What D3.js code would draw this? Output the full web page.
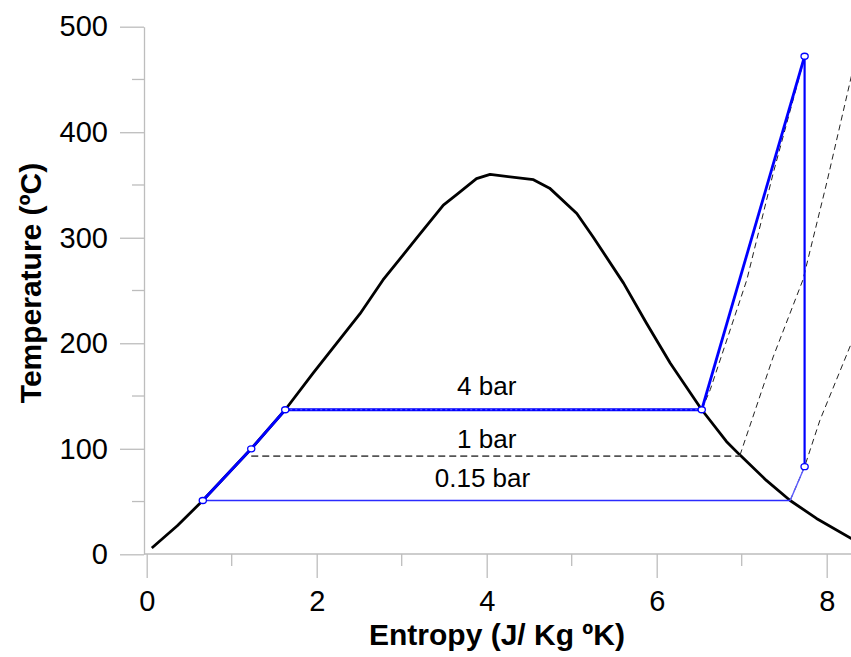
<!DOCTYPE html>
<html>
<head>
<meta charset="utf-8">
<script src="https://cdn.jsdelivr.net/npm/d3@7"></script>
<style>
  html, body { margin: 0; padding: 0; background: #fff; }
  svg { display: block; font-family: "Liberation Sans", Arial, sans-serif; }
</style>
</head>
<body>
<div id="chart"></div>
<script>
// saturation dome (entropy, temperature)
const satLiquid = [[0.06, 6], [0.36, 27], [0.66, 51], [1.23, 100], [1.63, 137], [1.96, 172], [2.51, 228],
  [2.78, 260], [3.18, 300], [3.49, 331], [3.65, 341], [3.88, 356], [4.04, 360]];
const satVapor = [[4.04, 360], [4.55, 355], [4.74, 347], [5.06, 323], [5.25, 301], [5.61, 257], [5.88, 219],
  [6.16, 181], [6.53, 137], [6.82, 107], [6.98, 94], [7.29, 70], [7.57, 51], [7.88, 34], [8.29, 15], [8.6, 3]];
// superheated isobars
const iso4bar = [[6.53, 137], [6.63, 156], [7.06, 260], [7.37, 361], [7.72, 465]];
const iso1bar = [[6.98, 94], [7.37, 187], [7.72, 260], [8.0, 352], [8.29, 453], [8.4, 490]];
const iso015bar = [[7.57, 51], [7.74, 83], [7.92, 127], [8.29, 200], [8.45, 232]];
// rankine cycle
const pumpLine = [[0.66, 51], [1.23, 100], [1.63, 137]];
const boilLine = [[1.63, 137], [6.53, 137]];
const superheatLine = [[6.53, 137], [7.74, 472]];
const turbineLine = [[7.74, 472], [7.74, 83]];
const wetLine = [[7.74, 83], [7.57, 51]];
const condenserLine = [[0.66, 51], [7.57, 51]];
const line1bar = [[1.23, 93], [6.98, 93]];
const statePoints = [[0.66, 51], [1.23, 100], [1.63, 137], [6.53, 137], [7.74, 472], [7.74, 83]];
const pressureLabels = [
  { text: "4 bar", s: 4.0, t: 151 },
  { text: "1 bar", s: 4.0, t: 101 },
  { text: "0.15 bar", s: 3.95, t: 64 },
];
const xTicks = [0, 2, 4, 6, 8];
const xMinor = [1, 3, 5, 7];
const yTicks = [0, 100, 200, 300, 400, 500];
const yMinor = [50, 150, 250, 350, 450];

const width = 851, height = 657;
const x = d3.scaleLinear().domain([0, 8]).range([146.7, 826.7]);
const y = d3.scaleLinear().domain([0, 500]).range([554.3, 26.7]);
const axisColor = "#bdbdbd";

const svg = d3.select("#chart").append("svg")
  .attr("width", width)
  .attr("height", height);

svg.append("defs").append("clipPath").attr("id", "plot")
  .append("rect").attr("x", 144).attr("y", 0).attr("width", width - 144).attr("height", 555);

// axes
const yAxis = svg.append("g").attr("transform", "translate(144,0)");
yAxis.call(d3.axisLeft(y).tickValues(yTicks).tickSize(24).tickPadding(12).tickSizeOuter(0));
yAxis.append("g").selectAll("line").data(yMinor).join("line")
  .attr("x1", -12).attr("x2", 0).attr("y1", y).attr("y2", y);

const xAxis = svg.append("g").attr("transform", "translate(0,554)");
xAxis.call(d3.axisBottom(x).tickValues(xTicks).tickSize(24).tickPadding(12).tickSizeOuter(0));
xAxis.select(".domain").remove();
xAxis.append("line").attr("x1", 144).attr("x2", width).attr("y1", 0).attr("y2", 0);
xAxis.append("g").selectAll("line").data(xMinor).join("line")
  .attr("x1", x).attr("x2", x).attr("y1", 0).attr("y2", 12);

svg.selectAll(".domain, .tick line, g line").attr("stroke", axisColor).attr("stroke-width", 1.3);
svg.selectAll(".tick text").attr("fill", "#000").style("font-size", "29px");

svg.append("text")
  .attr("x", 497).attr("y", 645)
  .attr("text-anchor", "middle")
  .style("font-size", "30px").style("font-weight", "bold")
  .text("Entropy (J/ Kg ºK)");
svg.append("text")
  .attr("transform", "translate(41,283) rotate(-90)")
  .attr("text-anchor", "middle")
  .style("font-size", "30px").style("font-weight", "bold")
  .text("Temperature (ºC)");

// plot
const plot = svg.append("g").attr("clip-path", "url(#plot)");
const line = d3.line().x((d) => x(d[0])).y((d) => y(d[1]));
const draw = (data, color, w, dash) => plot.append("path")
  .datum(data)
  .attr("d", line)
  .attr("fill", "none")
  .attr("stroke", color)
  .attr("stroke-width", w)
  .attr("stroke-linejoin", "round")
  .attr("stroke-dasharray", dash ?? null);

draw(satLiquid.concat(satVapor.slice(1)), "#000", 2.8);
draw(iso4bar, "#222", 1, "6,4");
draw(iso1bar, "#222", 1, "6,4");
draw(iso015bar, "#222", 1, "6,4");
draw(line1bar, "#555", 1.8, "7,4");
draw(condenserLine, "#2b2bff", 1.5);
draw(wetLine, "#5a5aff", 1.4);
draw(turbineLine, "#0000ff", 2.2);
draw(pumpLine, "#0000ff", 2.8);
draw(boilLine, "#0000ff", 3.2);
draw(boilLine, "#ffffff", 0.7, "2,3").attr("opacity", 0.6);
draw(superheatLine, "#0000ff", 2.8);

plot.selectAll("ellipse.pt").data(statePoints).join("ellipse")
  .attr("class", "pt")
  .attr("cx", (d) => x(d[0]))
  .attr("cy", (d) => y(d[1]))
  .attr("rx", 3.6).attr("ry", 3)
  .attr("fill", "#fff")
  .attr("stroke", "#0000ff")
  .attr("stroke-width", 1.3);

svg.selectAll("text.lbl").data(pressureLabels).join("text")
  .attr("class", "lbl")
  .attr("x", (d) => x(d.s))
  .attr("y", (d) => y(d.t))
  .attr("text-anchor", "middle")
  .style("font-size", "26px")
  .text((d) => d.text);
</script>
</body>
</html>
